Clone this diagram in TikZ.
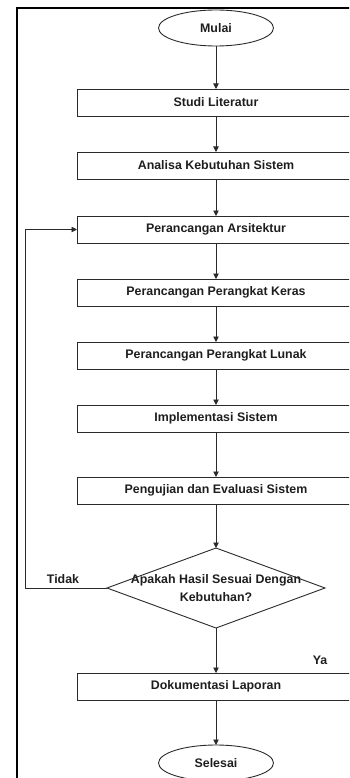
\documentclass[tikz,border=0pt]{standalone}
\usepackage{fontspec}
\setmainfont{Liberation Sans}
\usepackage{tikz}
\usetikzlibrary{arrows.meta,positioning,shapes.geometric}
\definecolor{linegray}{HTML}{2A2A2A}
\definecolor{textgray}{HTML}{1E1E1E}

\begin{document}
\begin{tikzpicture}[
  x=1pt, y=1pt,
  node distance=36pt,
  every node/.style={font=\fontsize{12.4}{18}\selectfont\bfseries, text=textgray, outer sep=0pt},
  procbox/.style={draw=linegray, line width=0.9pt, minimum width=278pt, minimum height=27pt, inner sep=0pt, align=center},
  term/.style={draw=linegray, line width=0.9pt, ellipse, minimum width=115pt, minimum height=36pt, inner sep=0pt},
  decision/.style={draw=linegray, line width=0.9pt, diamond, minimum width=218pt, minimum height=80pt, inner sep=0pt},
  arr/.style={-{Triangle[length=5.5pt, width=5.5pt]}, draw=linegray, line width=0.9pt},
]
  \useasboundingbox (0,0) rectangle (349,-778);
  \clip (0,0) rectangle (349,-778);

  % Outer frame
  \draw[line width=2pt] (17,-800) |- (400,-8);

  % Start
  \node[term] (mulai) at (216,-28) {Mulai};

  % Steps
  \node[procbox, below=43pt of mulai] (studi) {Studi Literatur};
  \node[procbox, below=of studi] (analisa) {Analisa Kebutuhan Sistem};
  \node[procbox, below=37pt of analisa] (arsi) {Perancangan Arsitektur};
  \node[procbox, below=of arsi] (keras) {Perancangan Perangkat Keras};
  \node[procbox, below=of keras] (lunak) {Perancangan Perangkat Lunak};
  \node[procbox, below=of lunak] (impl) {Implementasi Sistem};
  \node[procbox, below=45pt of impl] (uji) {Pengujian dan Evaluasi Sistem};

  % Decision
  \node[decision, below=44pt of uji] (cek) {};
  \node[align=center] (cektxt) at (cek) {Apakah Hasil Sesuai Dengan\\Kebutuhan?};

  % End
  \node[procbox, below=45pt of cek] (dok) {Dokumentasi Laporan};
  \node[term, below=45pt of dok] (selesai) {Selesai};

  % Connectors
  \draw[arr] (mulai) -- (studi);
  \draw[arr] (studi) -- (analisa);
  \draw[arr] (analisa) -- (arsi);
  \draw[arr] (arsi) -- (keras);
  \draw[arr] (keras) -- (lunak);
  \draw[arr] (lunak) -- (impl);
  \draw[arr] (impl) -- (uji);
  \draw[arr] (uji) -- (cek);
  \draw[arr] (cek) -- (dok);
  \draw[arr] (dok) -- (selesai);

  % Loop back
  \draw[arr] (cek.west) -- ++(-82,0) |- (arsi.west);

  % Labels
  \node (tidak) at (63,-579) {Tidak};
  \node (ya) at (320,-660) {Ya};
\end{tikzpicture}
\end{document}
